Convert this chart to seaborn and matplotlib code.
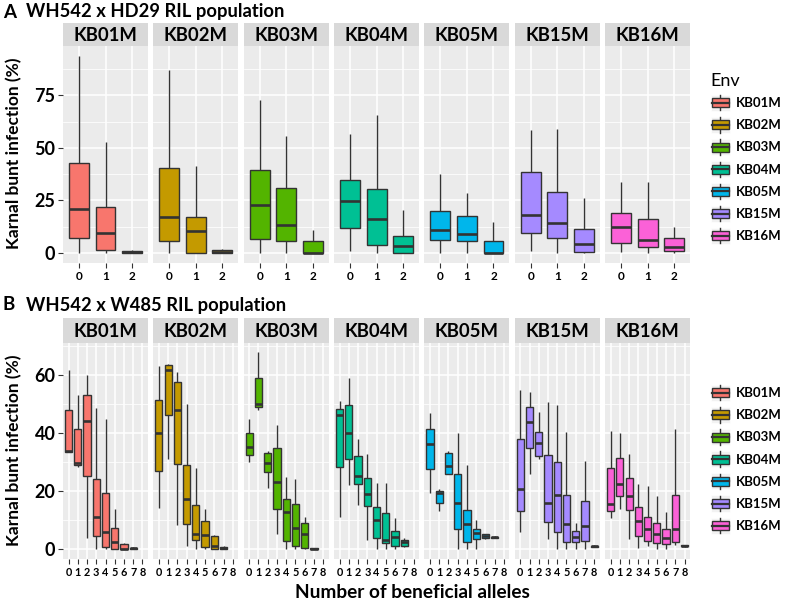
import numpy as np
import pandas as pd
import seaborn as sns
import matplotlib.pyplot as plt
from matplotlib.legend_handler import HandlerBase
from matplotlib.patches import Rectangle, Patch
from matplotlib.lines import Line2D

plt.rcParams['font.family'] = ['Lato', 'DejaVu Sans']

envs = ["KB01M", "KB02M", "KB03M", "KB04M", "KB05M", "KB15M", "KB16M"]
env_colors = ["#F8766D", "#C49A00", "#53B400", "#00C094", "#00B6EB", "#A58AFF", "#FB61D7"]

# Panel A: five-number summaries [min, q1, median, q3, max] per allele count 0..2
alleles_a = [0, 1, 2]
a_kb01m = [[0, 7.1, 21.1, 42.9, 93.7], [0, 1.3, 9.5, 21.7, 52.9], [0, 0, 0.3, 1.2, 1.5]]
a_kb02m = [[0, 5.7, 17.0, 40.5, 87.0], [0, 0, 10.5, 17.3, 41.4], [0, 0, 0.3, 1.5, 2.0]]
a_kb03m = [[0, 6.7, 22.9, 39.7, 72.7], [0, 5.7, 13.5, 31.0, 55.7], [0, 0, 0, 5.7, 10.8]]
a_kb04m = [[1.0, 11.7, 24.9, 34.9, 56.8], [0, 4.0, 16.3, 30.5, 65.6], [0, 0, 3.3, 8.3, 20.6]]
a_kb05m = [[0, 6.0, 11.0, 19.8, 37.8], [0, 5.7, 8.9, 17.5, 28.7], [0, 0, 0, 5.9, 14.8]]
a_kb15m = [[1.0, 9.5, 17.9, 38.4, 58.4], [0, 7.3, 14.4, 29.2, 58.9], [0, 0.5, 4.3, 11.6, 26.2]]
a_kb16m = [[0.5, 4.9, 12.5, 19.2, 33.7], [0, 2.7, 6.3, 16.3, 33.7], [0, 1.0, 2.9, 7.1, 12.4]]

# Panel B: five-number summaries per allele count 0..8
alleles_b = [0, 1, 2, 3, 4, 5, 6, 7, 8]
b_kb01m = [[33.3, 33.3, 33.9, 48.0, 61.8], [28.2, 28.9, 29.7, 41.4, 52.9], [3.8, 25.1, 44.1, 53.0, 59.9],
           [0, 4.4, 10.9, 23.9, 48.6], [0, 0.7, 5.6, 19.2, 44.9], [0, 0, 2.2, 7.2, 13.8],
           [0, 0, 0, 1.5, 1.8], [0, 0, 0.1, 0.3, 0.4]]
b_kb02m = [[13.9, 26.8, 40.0, 51.5, 63.0], [31.0, 46.0, 61.8, 63.3, 63.9], [8.0, 29.1, 48.0, 57.6, 60.9],
           [0.9, 8.4, 17.0, 28.9, 50.1], [0, 2.9, 5.2, 15.1, 27.9], [0, 0.7, 4.6, 9.5, 13.8],
           [0, 0, 0.9, 4.5, 4.6], [0, 0, 0.3, 0.6, 0.8]]
b_kb03m = [[30.1, 32.4, 35.0, 40.0, 44.8], [48.0, 48.9, 50.1, 59.0, 67.8], [21.0, 26.6, 29.5, 32.9, 33.7],
           [4.9, 13.8, 23.0, 34.6, 42.6], [0, 2.6, 12.6, 17.0, 24.8], [0, 0.9, 7.2, 15.5, 23.9],
           [0, 0.3, 4.9, 9.0, 10.9], [0, 0, 0, 0.1, 0.2]]
b_kb04m = [[10.9, 28.3, 46.0, 48.4, 50.9], [22.0, 31.1, 40.0, 49.5, 59.0], [15.1, 22.4, 25.1, 32.0, 37.9],
           [2.9, 14.9, 19.0, 24.5, 32.8], [0, 3.6, 10.0, 14.5, 22.8], [0, 2.1, 3.1, 12.3, 22.8],
           [0, 0.9, 4.0, 6.0, 10.7], [0.7, 0.9, 2.3, 2.9, 3.6]]
b_kb05m = [[19.1, 27.4, 36.0, 41.4, 46.9], [13.0, 15.9, 19.1, 19.9, 20.7], [25.9, 25.9, 28.5, 33.1, 33.7],
           [0, 6.9, 15.9, 25.9, 39.8], [0, 2.4, 8.6, 13.2, 28.9], [0, 3.4, 5.5, 6.9, 9.8],
           [3.4, 3.6, 4.3, 4.9, 5.1], [3.6, 3.8, 4.0, 4.1, 4.2]]
b_kb15m = [[5.7, 13.0, 20.5, 37.7, 54.7], [25.9, 34.7, 43.8, 48.9, 54.0], [31.0, 32.0, 36.6, 40.3, 47.1],
           [3.2, 9.2, 15.9, 32.3, 50.6], [0, 5.9, 18.5, 29.9, 49.5], [0, 2.4, 8.6, 18.4, 40.2],
           [0, 2.4, 3.9, 6.0, 9.0], [0, 2.6, 7.8, 16.4, 30.2], [0.4, 0.6, 0.8, 1.0, 1.2]]
b_kb16m = [[10.7, 13.0, 15.5, 27.9, 40.6], [13.6, 18.2, 22.5, 31.4, 40.0], [3.4, 13.3, 18.2, 24.3, 32.8],
           [0.3, 4.4, 9.4, 14.5, 22.4], [0.9, 2.6, 6.7, 10.9, 21.6], [0, 2.1, 5.2, 9.0, 18.2],
           [0, 1.7, 3.8, 6.7, 12.8], [1.3, 2.4, 6.9, 18.5, 41.4], [0.6, 0.8, 1.0, 1.2, 1.3]]

panel_a = [a_kb01m, a_kb02m, a_kb03m, a_kb04m, a_kb05m, a_kb15m, a_kb16m]
panel_b = [b_kb01m, b_kb02m, b_kb03m, b_kb04m, b_kb05m, b_kb15m, b_kb16m]

W, H = 787, 600
fig = plt.figure(figsize=(W / 100, H / 100), dpi=100)


def fig_rect(x0, y0, w, h):
    return [x0 / W, 1 - (y0 + h) / H, w / W, h / H]


def long_df(summaries, alleles):
    rows = []
    for allele, stats in zip(alleles, summaries):
        for v in stats:
            rows.append((allele, v))
    return pd.DataFrame(rows, columns=["allele", "value"])


panel_w = 85.0
gap = 5.35
left0 = 63.0
dark = "#333333"


def draw_row(data, alleles, strip_top, strip_h, panel_top, panel_h, ylim, yticks, yminor, box_w, xt_size):
    n = len(alleles)
    for i, (env, col, summ) in enumerate(zip(envs, env_colors, data)):
        x0 = left0 + i * (panel_w + gap)
        ax = fig.add_axes(fig_rect(x0, panel_top, panel_w, panel_h))
        df = long_df(summ, alleles)
        sns.boxplot(data=df, x="allele", y="value", order=alleles, color=col, saturation=1,
                    width=box_w, whis=(0, 100), showfliers=False, showcaps=False,
                    linecolor=dark, linewidth=1.0,
                    medianprops={"linewidth": 1.9, "color": dark}, ax=ax)
        ax.set_facecolor("#EBEBEB")
        ax.set_xlim(-0.6, n - 0.4)
        ax.set_ylim(*ylim)
        ax.set_yticks(yticks)
        ax.set_yticks(yminor, minor=True)
        ax.set_xticks(range(n))
        ax.set_xticklabels([str(a) for a in alleles], fontsize=xt_size, fontweight="bold")
        ax.set_axisbelow(True)
        ax.grid(which="major", color="white", linewidth=1.1)
        ax.grid(which="minor", axis="y", color="white", linewidth=0.55)
        for s in ax.spines.values():
            s.set_visible(False)
        ax.set_xlabel("")
        ax.set_ylabel("")
        ax.tick_params(axis="x", length=3.5, width=0.8, color=dark, pad=2.5, labelcolor="black")
        ax.tick_params(axis="y", which="minor", length=0)
        if i == 0:
            ax.set_yticklabels([str(t) for t in yticks], fontsize=13, fontweight="bold")
            ax.tick_params(axis="y", which="major", length=3.5, width=0.8, color=dark, pad=2,
                           labelcolor="black")
        else:
            ax.tick_params(axis="y", which="major", length=0, labelleft=False)
        sax = fig.add_axes(fig_rect(x0, strip_top, panel_w, strip_h))
        sax.set_facecolor("#D9D9D9")
        sax.set_xticks([])
        sax.set_yticks([])
        for s in sax.spines.values():
            s.set_visible(False)
        sax.text(0.5, 0.45, env, ha="center", va="center", fontsize=13.3, fontweight="bold",
                 transform=sax.transAxes)


draw_row(panel_a, alleles_a, 23, 23, 46, 217, (-4.7, 98.4), [0, 25, 50, 75], [12.5, 37.5, 62.5, 87.5], 0.75, 8.5)
draw_row(panel_b, alleles_b, 318, 24.5, 342.5, 216, (-3.4, 71.2), [0, 20, 40, 60], [10, 30, 50, 70], 0.78, 7.8)

# Titles and labels
fig.text(3 / W, 1 - 12 / H, "A", fontsize=13.5, fontweight="bold", va="center", ha="left")
fig.text(26 / W, 1 - 12 / H, "WH542 x HD29 RIL population", fontsize=13.2, fontweight="bold", va="center", ha="left")
fig.text(3 / W, 1 - 305 / H, "B", fontsize=13.5, fontweight="bold", va="center", ha="left")
fig.text(26 / W, 1 - 305 / H, "WH542 x W485 RIL population", fontsize=13.2, fontweight="bold", va="center", ha="left")
fig.text(14 / W, 1 - 153 / H, "Karnal bunt infection (%)", rotation=90, fontsize=12.5, fontweight="bold",
         va="center", ha="center")
fig.text(14 / W, 1 - 450 / H, "Karnal bunt infection (%)", rotation=90, fontsize=12.5, fontweight="bold",
         va="center", ha="center")
fig.text(412 / W, 1 - 598 / H, "Number of beneficial alleles", fontsize=13.7, fontweight="bold",
         va="baseline", ha="center")


class BoxKeyHandler(HandlerBase):
    def create_artists(self, legend, orig_handle, xdescent, ydescent, width, height, fontsize, trans):
        col = orig_handle.get_facecolor()
        bg = Rectangle((-xdescent, -ydescent), width, height, facecolor="#F2F2F2",
                       edgecolor="white", linewidth=0.5, transform=trans)
        cx = -xdescent + width / 2
        wl = Line2D([cx, cx], [-ydescent + height * 0.02, -ydescent + height * 0.98], color=dark,
                    linewidth=1.0, transform=trans)
        bx = Rectangle((-xdescent + width * 0.06, -ydescent + height * 0.22), width * 0.88, height * 0.56,
                       facecolor=col, edgecolor=dark, linewidth=1.0, transform=trans)
        md = Line2D([-xdescent + width * 0.06, -xdescent + width * 0.94],
                    [-ydescent + height * 0.5] * 2, color=dark, linewidth=1.6, transform=trans)
        return [bg, wl, bx, md]


handles = [Patch(facecolor=c) for c in env_colors]
for yanchor, title in [(70, "Env"), (382, None)]:
    leg = fig.legend(handles=handles, labels=envs, handler_map={Patch: BoxKeyHandler()},
                     loc="upper left", bbox_to_anchor=(708 / W, 1 - yanchor / H), frameon=False,
                     fontsize=9.5, title=title, title_fontsize=13, alignment="left",
                     handlelength=1.45, handleheight=1.5, labelspacing=0.46, handletextpad=0.45,
                     borderpad=0.2, borderaxespad=0)
    for t in leg.get_texts():
        t.set_fontweight("bold")

fig.savefig("out.png", dpi=100)
